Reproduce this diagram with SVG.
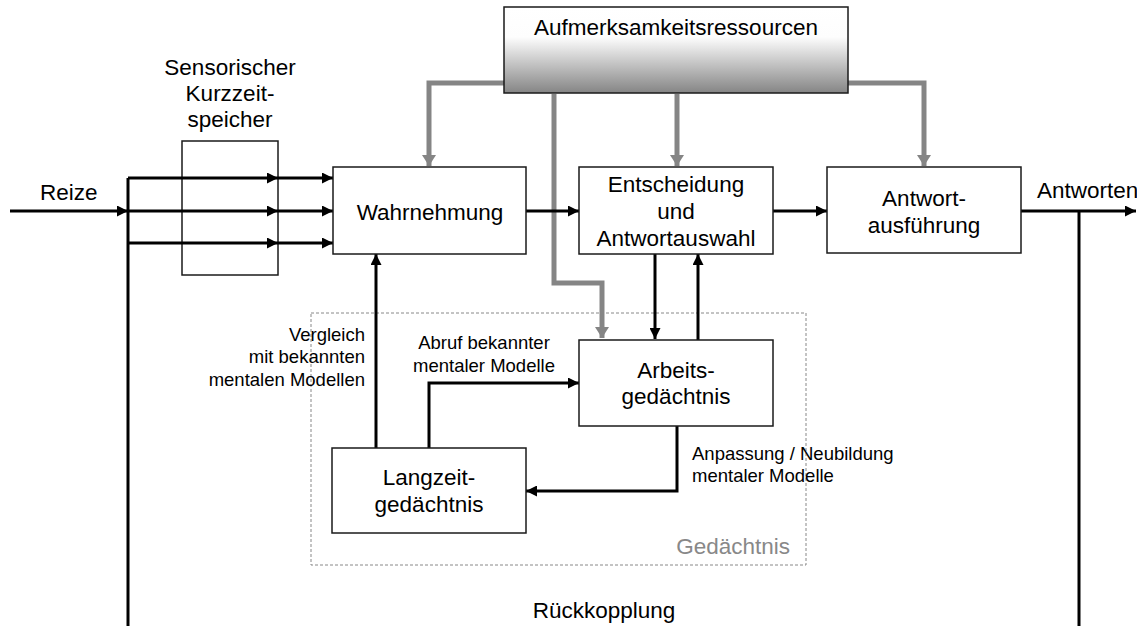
<svg xmlns="http://www.w3.org/2000/svg" width="1137" height="626" viewBox="0 0 1137 626">
<style>
text{font-family:"Liberation Sans",Arial,sans-serif;fill:#000}
.big{font-size:22.5px}
.sm{font-size:18.5px}
.mid{text-anchor:middle}
.box{fill:#fff;stroke:#1a1a1a;stroke-width:1.5}
.blk{fill:none;stroke:#000;stroke-width:3}
.gry{fill:none;stroke:#858585;stroke-width:5}
</style>
<defs>
<linearGradient id="att" x1="0" y1="0" x2="0" y2="1">
<stop offset="0" stop-color="#fff"/>
<stop offset="0.35" stop-color="#fdfdfd"/>
<stop offset="1" stop-color="#858585"/>
</linearGradient>
<marker id="ab" markerUnits="userSpaceOnUse" markerWidth="11" markerHeight="11" refX="10" refY="5" orient="auto" viewBox="0 0 10 10">
<path d="M0,0 L10,5 L0,10 z" fill="#000"/>
</marker>
<marker id="ag" markerUnits="userSpaceOnUse" markerWidth="14" markerHeight="14" refX="11" refY="7" orient="auto" viewBox="0 0 11 14">
<path d="M0,0 L11,7 L0,14 z" fill="#858585"/>
</marker>
</defs>

<g id="gedaechtnis">
<rect x="311" y="313" width="495" height="252" fill="none" stroke="#888" stroke-width="1" stroke-dasharray="3,2"/>
<text class="big" x="790" y="554" text-anchor="end" style="fill:#888">Gedächtnis</text>
</g>

<g id="skzs">
<rect x="182" y="141" width="96" height="134" fill="#fff" stroke="#1a1a1a" stroke-width="1.5"/>
<text class="big mid" x="230" y="75">Sensorischer</text>
<text class="big mid" x="230" y="101">Kurzzeit-</text>
<text class="big mid" x="230" y="127">speicher</text>
</g>

<g id="connectors">
<!-- gray attention arrows -->
<path class="gry" d="M504,83 H429 V166" marker-end="url(#ag)"/>
<path class="gry" d="M554,94 V283 H602 V338" marker-end="url(#ag)"/>
<path class="gry" d="M677,94 V166" marker-end="url(#ag)"/>
<path class="gry" d="M848,83 H924 V166" marker-end="url(#ag)"/>
<!-- input -->
<path class="blk" d="M10,211 H128" marker-end="url(#ab)"/>
<path class="blk" d="M128,178 V626"/>
<path class="blk" d="M128,178 H278" marker-end="url(#ab)"/>
<path class="blk" d="M278,178 H333" marker-end="url(#ab)"/>
<path class="blk" d="M128,211 H278" marker-end="url(#ab)"/>
<path class="blk" d="M278,211 H333" marker-end="url(#ab)"/>
<path class="blk" d="M128,243 H278" marker-end="url(#ab)"/>
<path class="blk" d="M278,243 H333" marker-end="url(#ab)"/>
<!-- main flow -->
<path class="blk" d="M526,211 H579" marker-end="url(#ab)"/>
<path class="blk" d="M773,211 H827" marker-end="url(#ab)"/>
<path class="blk" d="M1021,211 H1136" marker-end="url(#ab)"/>
<path class="blk" d="M1079,211 V626"/>
<!-- memory -->
<path class="blk" d="M655,254 V339" marker-end="url(#ab)"/>
<path class="blk" d="M698,340 V254" marker-end="url(#ab)"/>
<path class="blk" d="M376,448 V254" marker-end="url(#ab)"/>
<path class="blk" d="M429,448 V383 H579" marker-end="url(#ab)"/>
<path class="blk" d="M677,426 V491 H526" marker-end="url(#ab)"/>
</g>

<g id="aufmerksamkeit">
<rect x="504" y="7" width="344" height="86" fill="url(#att)" stroke="#1a1a1a" stroke-width="1.5"/>
<text class="big mid" x="676" y="35">Aufmerksamkeitsressourcen</text>
</g>

<g id="wahrnehmung">
<rect class="box" x="333" y="167" width="193" height="87"/>
<text class="big mid" x="430" y="220">Wahrnehmung</text>
</g>

<g id="entscheidung">
<rect class="box" x="579" y="167" width="194" height="87"/>
<text class="big mid" x="676" y="192">Entscheidung</text>
<text class="big mid" x="676" y="219">und</text>
<text class="big mid" x="676" y="246">Antwortauswahl</text>
</g>

<g id="antwortausfuehrung">
<rect class="box" x="827" y="167" width="194" height="86"/>
<text class="big mid" x="924" y="206">Antwort-</text>
<text class="big mid" x="924" y="233">ausführung</text>
</g>

<g id="arbeitsgedaechtnis">
<rect class="box" x="579" y="340" width="194" height="86"/>
<text class="big mid" x="676" y="378">Arbeits-</text>
<text class="big mid" x="676" y="404">gedächtnis</text>
</g>

<g id="langzeitgedaechtnis">
<rect class="box" x="332" y="448" width="194" height="85"/>
<text class="big mid" x="429" y="485">Langzeit-</text>
<text class="big mid" x="429" y="512">gedächtnis</text>
</g>

<g id="labels">
<text class="big" x="40" y="200">Reize</text>
<text class="big" x="1037" y="198">Antworten</text>
<text class="sm" x="365" y="341" text-anchor="end">Vergleich</text>
<text class="sm" x="365" y="363" text-anchor="end">mit bekannten</text>
<text class="sm" x="365" y="386" text-anchor="end">mentalen Modellen</text>
<text class="sm mid" x="484" y="349">Abruf bekannter</text>
<text class="sm mid" x="484" y="372">mentaler Modelle</text>
<text class="sm" x="692" y="460">Anpassung / Neubildung</text>
<text class="sm" x="692" y="482">mentaler Modelle</text>
<text class="big mid" x="604" y="618">Rückkopplung</text>
</g>
</svg>
